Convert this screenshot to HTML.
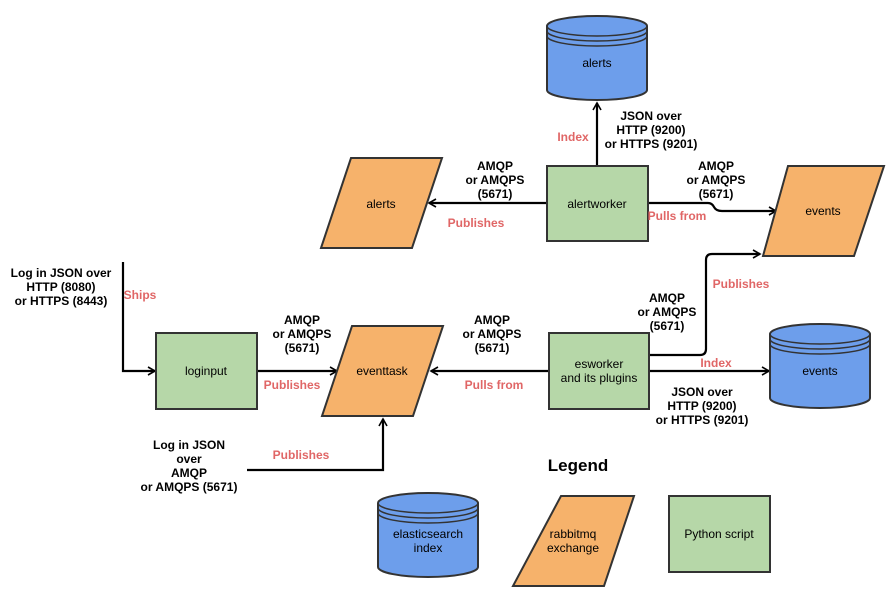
<!DOCTYPE html>
<html><head><meta charset="utf-8"><style>
html,body{margin:0;padding:0;background:#fff;}
svg{display:block;}
text{font-family:"Liberation Sans",Arial,sans-serif;font-size:12px;}
.b{font-weight:bold;fill:#000;}
.r{font-weight:bold;fill:#e06666;}
.n{fill:#000;}
</style></head><body>
<svg width="886" height="606" viewBox="0 0 886 606" xmlns="http://www.w3.org/2000/svg">
<defs>
<marker id="a" markerWidth="10" markerHeight="10" refX="8" refY="5" orient="auto" markerUnits="userSpaceOnUse">
<path d="M1,1 L8,5 L1,9" fill="none" stroke="#000" stroke-width="1.6"/>
</marker>
<g id="cyl">
<path d="M0,10 A50,10 0 0 1 100,10 L100,74 A50,10 0 0 1 0,74 Z" fill="#6d9eeb" stroke="#333" stroke-width="2"/>
<path d="M0,10 A50,10 0 0 0 100,10 M0,15 A50,10 0 0 0 100,15 M0,20 A50,10 0 0 0 100,20" fill="none" stroke="#333" stroke-width="1.5"/>
</g>
</defs>
<g stroke="#000" stroke-width="2.2" fill="none">
<line x1="597" y1="166" x2="597" y2="103" marker-end="url(#a)"/>
<line x1="547" y1="203" x2="429" y2="203" marker-end="url(#a)"/>
<path d="M648,203 L708,203 Q712,203 714,207 Q716,211 722,211 L776,211" marker-end="url(#a)"/>
<path d="M649,355 L700,355 Q706,355 706,349 L706,260 Q706,254 712,254 L760,254" marker-end="url(#a)"/>
<line x1="649" y1="371" x2="769" y2="371" marker-end="url(#a)"/>
<line x1="549" y1="371" x2="431" y2="371" marker-end="url(#a)"/>
<line x1="257" y1="371" x2="337" y2="371" marker-end="url(#a)"/>
<path d="M123,262 L123,371 L155,371" marker-end="url(#a)"/>
<path d="M247,470 L383,470 L383,419" marker-end="url(#a)"/>
</g>
<g transform="translate(547,16)"><use href="#cyl"/></g>
<g transform="translate(770,324)"><use href="#cyl"/></g>
<g transform="translate(378,493)"><use href="#cyl"/></g>
<g fill="#b6d7a8" stroke="#333" stroke-width="2">
<rect x="547" y="166" width="101" height="75"/>
<rect x="156" y="333" width="101" height="76"/>
<rect x="549" y="333" width="100" height="76"/>
<rect x="669" y="496" width="101" height="76"/>
</g>
<g fill="#f6b26b" stroke="#333" stroke-width="2">
<polygon points="351,158 442,158 412,248 321,248"/>
<polygon points="788,166 884,166 854,256 763,256"/>
<polygon points="352,326 443,326 413,416 322,416"/>
<polygon points="561,496 634,496 604,586 513,586"/>
</g>
<g text-anchor="middle" class="n">
<text x="597" y="67" class="n">alerts</text>
<text x="597" y="208" class="n">alertworker</text>
<text x="381" y="208" class="n">alerts</text>
<text x="823" y="215" class="n">events</text>
<text x="206" y="375" class="n">loginput</text>
<text x="382" y="375" class="n">eventtask</text>
<text x="599" y="368" class="n">esworker</text>
<text x="599" y="382" class="n">and its plugins</text>
<text x="820" y="375" class="n">events</text>
<text x="428" y="538" class="n">elasticsearch</text>
<text x="428" y="552" class="n">index</text>
<text x="573" y="538" class="n">rabbitmq</text>
<text x="573" y="552" class="n">exchange</text>
<text x="719" y="538" class="n">Python script</text>
</g>
<g text-anchor="middle">
<text class="b" x="651" y="120">JSON over</text><text class="b" x="651" y="134">HTTP (9200)</text><text class="b" x="651" y="148">or HTTPS (9201)</text>
<text class="r" x="573" y="141">Index</text>
<text class="b" x="495" y="170">AMQP</text><text class="b" x="495" y="184">or AMQPS</text><text class="b" x="495" y="198">(5671)</text>
<text class="r" x="476" y="227">Publishes</text>
<text class="b" x="716" y="170">AMQP</text><text class="b" x="716" y="184">or AMQPS</text><text class="b" x="716" y="198">(5671)</text>
<text class="r" x="677" y="220">Pulls from</text>
<text class="r" x="741" y="288">Publishes</text>
<text class="b" x="667" y="302">AMQP</text><text class="b" x="667" y="316">or AMQPS</text><text class="b" x="667" y="330">(5671)</text>
<text class="r" x="716" y="367">Index</text>
<text class="b" x="702" y="396">JSON over</text><text class="b" x="702" y="410">HTTP (9200)</text><text class="b" x="702" y="424">or HTTPS (9201)</text>
<text class="b" x="61" y="277">Log in JSON over</text><text class="b" x="61" y="291">HTTP (8080)</text><text class="b" x="61" y="305">or HTTPS (8443)</text>
<text class="r" x="140" y="299">Ships</text>
<text class="b" x="302" y="324">AMQP</text><text class="b" x="302" y="338">or AMQPS</text><text class="b" x="302" y="352">(5671)</text>
<text class="r" x="292" y="389">Publishes</text>
<text class="b" x="492" y="324">AMQP</text><text class="b" x="492" y="338">or AMQPS</text><text class="b" x="492" y="352">(5671)</text>
<text class="r" x="494" y="389">Pulls from</text>
<text class="b" x="189" y="449">Log in JSON</text><text class="b" x="189" y="463">over</text><text class="b" x="189" y="477">AMQP</text><text class="b" x="189" y="491">or AMQPS (5671)</text>
<text class="r" x="301" y="459">Publishes</text>
<text x="578" y="471" style="font-size:17px;font-weight:bold">Legend</text>
</g>
</svg>
</body></html>
